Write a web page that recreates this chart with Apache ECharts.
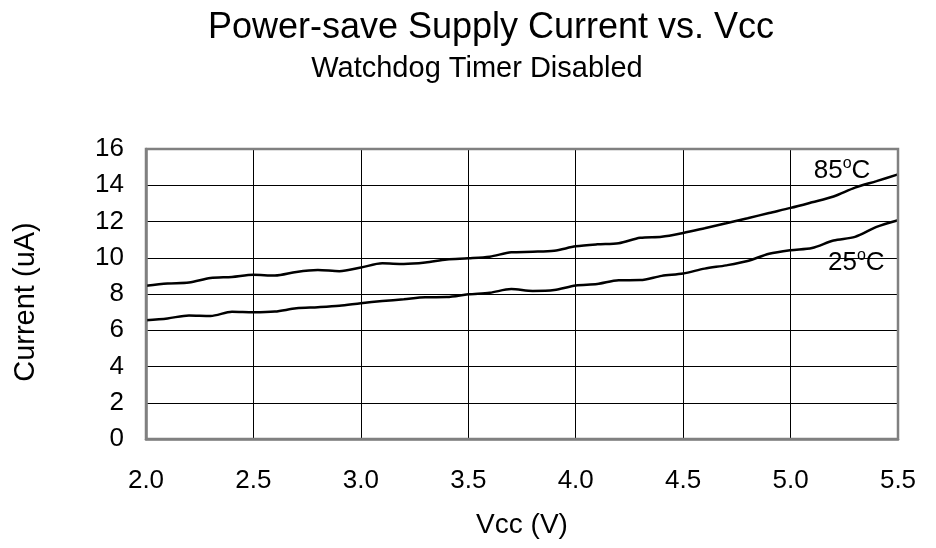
<!DOCTYPE html>
<html>
<head>
<meta charset="utf-8">
<script src="https://cdn.jsdelivr.net/npm/echarts@6/dist/echarts.min.js"></script>
<style>
  html, body { margin: 0; padding: 0; background: #fff; }
  #chart { width: 936px; height: 548px; }
</style>
</head>
<body>
<div id="chart"></div>
<script>
// Supply voltage steps (V)
const vcc = [2.0, 2.1, 2.2, 2.3, 2.4, 2.5, 2.6, 2.7, 2.8, 2.9,
             3.0, 3.1, 3.2, 3.3, 3.4, 3.5, 3.6, 3.7, 3.8, 3.9,
             4.0, 4.1, 4.2, 4.3, 4.4, 4.5, 4.6, 4.7, 4.8, 4.9,
             5.0, 5.1, 5.2, 5.3, 5.4, 5.5];

// Power-save current (uA) at 85 °C
const current85 = [8.45, 8.58, 8.63, 8.88, 8.94, 9.06, 9.02, 9.22, 9.32, 9.26,
                   9.46, 9.69, 9.66, 9.74, 9.91, 9.97, 10.06, 10.30, 10.33, 10.39,
                   10.63, 10.74, 10.80, 11.10, 11.16, 11.37, 11.63, 11.90, 12.18, 12.47,
                   12.75, 13.06, 13.38, 13.87, 14.23, 14.60];

// Power-save current (uA) at 25 °C
const current25 = [6.55, 6.65, 6.82, 6.79, 7.02, 6.99, 7.03, 7.21, 7.27, 7.35,
                   7.49, 7.61, 7.71, 7.82, 7.83, 7.98, 8.07, 8.27, 8.17, 8.22,
                   8.47, 8.55, 8.76, 8.77, 9.00, 9.13, 9.40, 9.58, 9.82, 10.22,
                   10.42, 10.54, 10.95, 11.15, 11.70, 12.07];

const seriesNames = ['85', '25'];
// Where each temperature tag sits, in axis units (left edge, top of capitals)
const tagAnchors = [[5.108, 15.39], [5.174, 10.32]];

const titleText = 'Power-save Supply Current vs. Vcc';
const subtitleText = 'Watchdog Timer Disabled';
const xName = 'Vcc (V)';
const yName = 'Current (uA)';

const FONT = '"Liberation Sans", Arial, Helvetica, sans-serif';
const TAG_SIZE = 26;
const DEG_SIZE = 16;

const pairs = (xs, ys) => xs.map((x, i) => [x, ys[i]]);

const chart = echarts.init(document.getElementById('chart'), null, { renderer: 'canvas' });

chart.setOption({
  animation: false,
  backgroundColor: '#ffffff',
  grid: { left: 146, right: 38, top: 149, bottom: 109, containLabel: false },
  xAxis: {
    type: 'value',
    min: 2.0, max: 5.5, interval: 0.5,
    name: xName, nameLocation: 'middle', nameGap: 72,
    nameTextStyle: { fontFamily: FONT, fontSize: 28, color: '#000' },
    axisLine: { show: true, lineStyle: { color: '#808080', width: 2.5 } },
    axisTick: { show: false },
    axisLabel: { margin: 29, fontFamily: FONT, fontSize: 26, color: '#000',
                 formatter: v => v.toFixed(1) },
    splitLine: { show: true, lineStyle: { color: '#000', width: 1 } }
  },
  yAxis: {
    type: 'value',
    min: 0, max: 16, interval: 2,
    axisLine: { show: true, lineStyle: { color: '#808080', width: 2.5 } },
    axisTick: { show: false },
    axisLabel: { margin: 22, fontFamily: FONT, fontSize: 26, color: '#000' },
    splitLine: { show: true, lineStyle: { color: '#000', width: 1 } }
  },
  series: [
    {
      name: seriesNames[0], type: 'line', data: pairs(vcc, current85),
      showSymbol: false, smooth: 0.3,
      lineStyle: { color: '#000', width: 2.5 }
    },
    {
      name: seriesNames[1], type: 'line', data: pairs(vcc, current25),
      showSymbol: false, smooth: 0.3,
      lineStyle: { color: '#000', width: 2.5 }
    }
  ]
});

// Text width helper for laying out the degree tags
const measureCtx = document.createElement('canvas').getContext('2d');
function textWidth(str, size) {
  measureCtx.font = size + 'px ' + FONT;
  return measureCtx.measureText(str).width;
}

// Temperature tag: number, raised small "o" level with the capitals, then "C"
function tag(t, pos) {
  const wNum = textWidth(t, TAG_SIZE);
  const wDeg = textWidth('o', DEG_SIZE);
  const capTop = pos[1];
  const mainTop = capTop - TAG_SIZE * 0.07;
  const degTop = capTop - DEG_SIZE * 0.07 - DEG_SIZE * 0.197;
  const txt = (s, x, y, size) => ({
    type: 'text', x, y, z: 20, silent: true,
    style: { text: s, font: size + 'px ' + FONT, fill: '#000', textAlign: 'left', textVerticalAlign: 'top' }
  });
  return [
    txt(t, pos[0], mainTop, TAG_SIZE),
    txt('o', pos[0] + wNum, degTop, DEG_SIZE),
    txt('C', pos[0] + wNum + wDeg, mainTop, TAG_SIZE)
  ];
}

const p85 = chart.convertToPixel({ gridIndex: 0 }, tagAnchors[0]);
const p25 = chart.convertToPixel({ gridIndex: 0 }, tagAnchors[1]);
const frame = chart.convertToPixel({ gridIndex: 0 }, [2.0, 16]);
const frameEnd = chart.convertToPixel({ gridIndex: 0 }, [5.5, 0]);

chart.setOption({
  graphic: [
    { type: 'text', x: 491, y: 10, style: { text: titleText, font: '36px ' + FONT, fill: '#000', textAlign: 'center', textVerticalAlign: 'top' } },
    { type: 'text', x: 477, y: 54, style: { text: subtitleText, font: '29px ' + FONT, fill: '#000', textAlign: 'center', textVerticalAlign: 'top' } },
    { type: 'text', x: 26, y: 302, rotation: Math.PI / 2,
      style: { text: yName, font: '29px ' + FONT, fill: '#000', textAlign: 'center', textVerticalAlign: 'middle' } },
    // Outer frame of the plotting area
    { type: 'rect', z: 10, silent: true,
      shape: { x: frame[0], y: frame[1], width: frameEnd[0] - frame[0], height: frameEnd[1] - frame[1] },
      style: { fill: 'none', stroke: '#808080', lineWidth: 2.5 } },
    ...tag(seriesNames[0], p85),
    ...tag(seriesNames[1], p25)
  ]
});
</script>
</body>
</html>
